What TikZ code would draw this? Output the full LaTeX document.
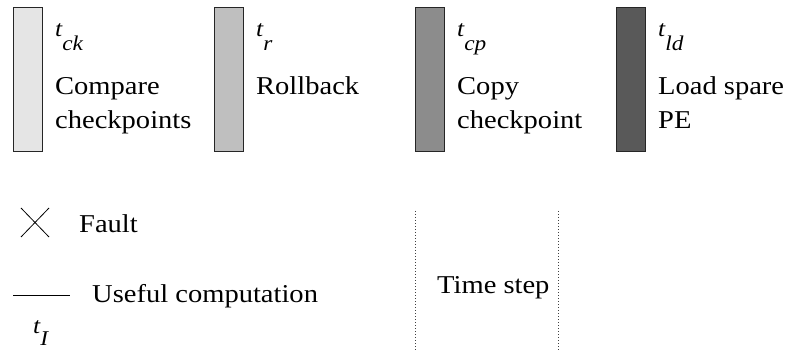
\documentclass[tikz,border=0pt]{standalone}
\usepackage{fontspec}
\setmainfont[FakeStretch=1.11]{Liberation Serif}
\newcommand{\tsym}[3]{{\fontsize{23}{25}\selectfont\itshape t}\raisebox{-#3}{\fontsize{21}{23}\selectfont\itshape #1}#2}
\begin{document}
\begin{tikzpicture}[x=1pt,y=-1pt,
  bar/.style={draw=black!85,line width=0.9pt,minimum width=29pt,minimum height=144pt,inner sep=0pt,anchor=north west},
  lbl/.style={anchor=base west,inner sep=0pt,font=\fontsize{25.7}{30}\selectfont},
  dotline/.style={dash pattern=on 0.9pt off 2.1pt,line width=0.9pt,black!75}]
\useasboundingbox (0,0) rectangle (791,352);
\node[bar,fill=black!10] (b1) at (13,7) {};
\node[bar,fill=black!25] (b2) at (214,7) {};
\node[bar,fill=black!45] (b3) at (415,7) {};
\node[bar,fill=black!65] (b4) at (616,7) {};
\node[lbl] (s1) at (55,37) {\tsym{ck}{}{14pt}};
\node[lbl] (s2) at (256,37) {\tsym{r}{}{14pt}};
\node[lbl] (s3) at (457,37) {\tsym{cp}{}{14pt}};
\node[lbl] (s4) at (658,37) {\tsym{ld}{}{14pt}};
\node[lbl] (c1a) at (55,95) {Compare};
\node[lbl] (c1b) at (55,129) {checkpoints};
\node[lbl] (c2a) at (256,95) {Rollback};
\node[lbl] (c3a) at (457,95) {Copy};
\node[lbl] (c3b) at (457,129) {checkpoint};
\node[lbl] (c4a) at (658,95) {Load spare};
\node[lbl] (c4b) at (658,129) {PE};
% fault
\coordinate (f1) at (21,208);
\coordinate (f2) at (49,237);
\coordinate (f3) at (21,237);
\coordinate (f4) at (49,208);
\draw[line width=0.8pt] (f1) -- (f2);
\draw[line width=0.8pt] (f3) -- (f4);
\node[lbl] (fault) at (79,233) {Fault};
% useful computation
\coordinate (u1) at (13,295);
\coordinate (u2) at (70,295);
\draw[line width=0.8pt] (u1) -- (u2);
\node[lbl] (useful) at (92,302) {Useful computation};
\node[lbl] (tI) at (33,333) {\tsym{I}{}{12pt}};
% time step
\coordinate (d1a) at (415,211);
\coordinate (d1b) at (415,352);
\coordinate (d2a) at (558,211);
\coordinate (d2b) at (558,352);
\draw[dotline] (d1a) -- (d1b);
\draw[dotline] (d2a) -- (d2b);
\node[lbl] (ts) at (437,293) {Time step};
\end{tikzpicture}
\end{document}
